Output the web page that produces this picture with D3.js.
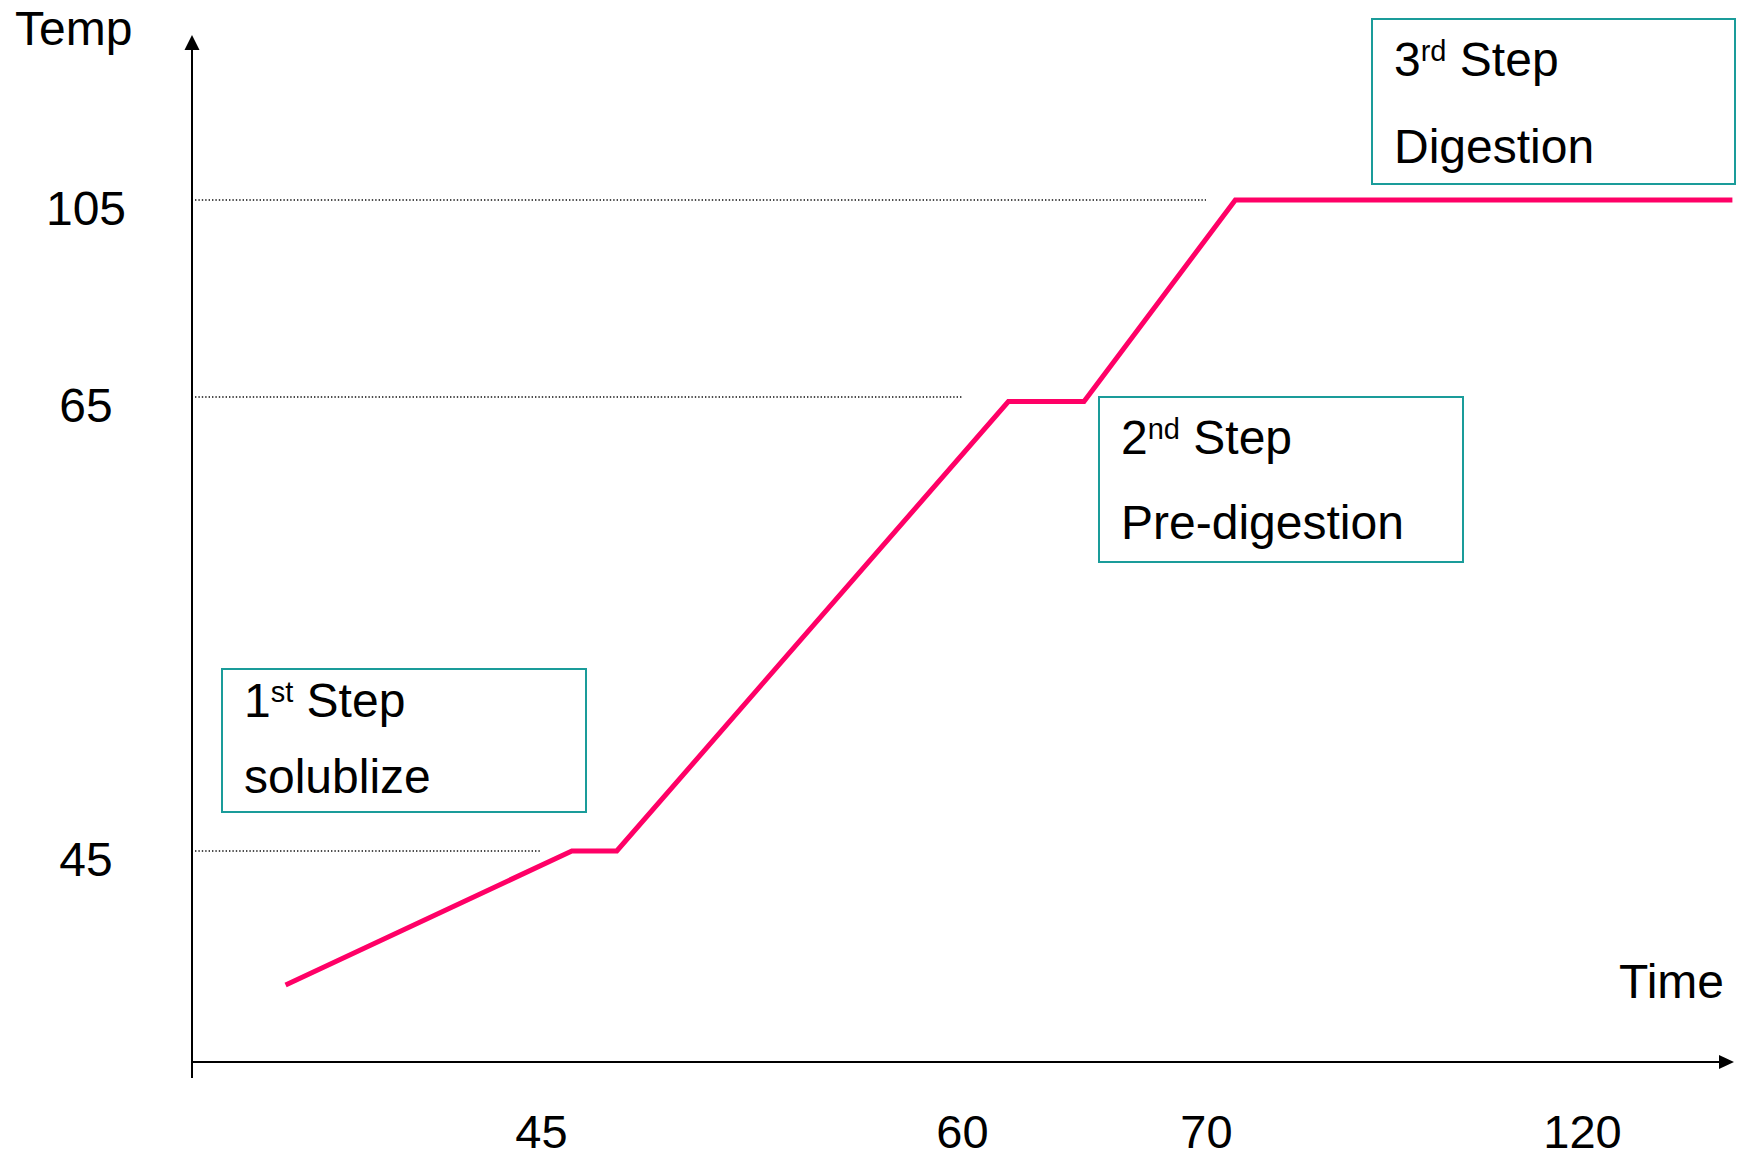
<!DOCTYPE html>
<html>
<head>
<meta charset="utf-8">
<script src="https://cdn.jsdelivr.net/npm/d3@7/dist/d3.min.js"></script>
<style>
  html, body { margin: 0; padding: 0; background: #fff; }
  svg { display: block; font-family: "Liberation Sans", Arial, sans-serif; }
</style>
</head>
<body>
<svg id="chart" width="1742" height="1153"></svg>
<script>
// Tick labels on each axis
const timeTicks = [45, 60, 70, 120];
const tempTicks = [45, 65, 105];

// Temperature profile (time, temp) vertices
const profileTime = [35.9, 46.1, 47.7, 61.9, 65.0, 73.9, 140];
const profileTemp = [39.1, 45, 45, 64.8, 64.8, 105, 105];

// Each reference temperature is held until this time
const guideTemp = [45, 65, 105];
const guideTime = [45, 60, 70];

// Process steps
const stepNumber = ["1", "2", "3"];
const stepSuffix = ["st", "nd", "rd"];
const stepName = ["solublize", "Pre-digestion", "Digestion"];

// Layout
const W = 1742, H = 1153;
const originX = 192, originY = 1062;
const axisTop = 35, axisRight = 1734;
const pink = "#ff0066", teal = "#1a9c9a";
const fontFamily = "'Liberation Sans', Arial, sans-serif";

const stepBoxes = [
  { x: 222, y: 669, w: 364, h: 143, line1: 48, line2: 124 },
  { x: 1099, y: 397, w: 364, h: 165, line1: 57, line2: 142 },
  { x: 1372, y: 19, w: 363, h: 165, line1: 57, line2: 144 }
];

// Both axes are schematic, so the scales are piecewise linear
const x = d3.scaleLinear().domain(timeTicks).range([541, 962, 1206, 1582]);
const y = d3.scaleLinear().domain(tempTicks).range([851, 397, 200]);

const svg = d3.select("#chart");

// Dotted reference lines
svg.append("g").selectAll("line")
  .data(guideTemp.map((t, i) => ({ temp: t, time: guideTime[i] })))
  .join("line")
  .attr("x1", originX + 3)
  .attr("x2", d => x(d.time))
  .attr("y1", d => y(d.temp))
  .attr("y2", d => y(d.temp))
  .attr("stroke", "#111")
  .attr("stroke-width", 1.3)
  .attr("stroke-dasharray", "1.4 2");

// Axis lines with arrow heads
const axes = svg.append("g");
axes.append("line")
  .attr("x1", originX).attr("x2", originX)
  .attr("y1", 1078).attr("y2", axisTop + 12)
  .attr("stroke", "#000").attr("stroke-width", 2);
axes.append("path")
  .attr("d", `M${originX},${axisTop} L${originX - 7.5},${axisTop + 15} L${originX + 7.5},${axisTop + 15}Z`)
  .attr("fill", "#000");
axes.append("line")
  .attr("x1", originX).attr("x2", axisRight - 12)
  .attr("y1", originY).attr("y2", originY)
  .attr("stroke", "#000").attr("stroke-width", 2.2);
axes.append("path")
  .attr("d", `M${axisRight},${originY} L${axisRight - 15},${originY - 7} L${axisRight - 15},${originY + 7}Z`)
  .attr("fill", "#000");

// Time tick labels
const xAxis = svg.append("g")
  .attr("transform", `translate(0,${originY})`)
  .call(d3.axisBottom(x).tickValues(timeTicks).tickSize(0).tickPadding(53).tickFormat(d3.format("d")));
xAxis.select(".domain").remove();
xAxis.selectAll("text")
  .attr("font-size", 47)
  .attr("font-family", fontFamily)
  .attr("fill", "#000");

// Temperature tick labels
const yAxis = svg.append("g")
  .attr("transform", `translate(${originX},0)`)
  .call(d3.axisLeft(y).tickValues(tempTicks).tickSize(0).tickFormat(d3.format("d")));
yAxis.select(".domain").remove();
yAxis.selectAll("text")
  .attr("x", -106)
  .attr("dy", 24)
  .attr("text-anchor", "middle")
  .attr("font-size", 48)
  .attr("font-family", fontFamily)
  .attr("fill", "#000");

// Axis titles
svg.append("text").attr("x", 15).attr("y", 45)
  .attr("font-size", 48).text("Temp");
svg.append("text").attr("x", 1724).attr("y", 998)
  .attr("text-anchor", "end").attr("font-size", 48).text("Time");

// Temperature profile
const line = d3.line().x(d => x(d[0])).y(d => y(d[1]));
svg.append("path")
  .datum(profileTime.map((t, i) => [t, profileTemp[i]]))
  .attr("d", line)
  .attr("fill", "none")
  .attr("stroke", pink)
  .attr("stroke-width", 5)
  .attr("stroke-linejoin", "miter");

// Step boxes
const steps = svg.append("g").selectAll("g")
  .data(stepBoxes.map((b, i) => ({ ...b, num: stepNumber[i], suf: stepSuffix[i], name: stepName[i] })))
  .join("g")
  .attr("transform", d => `translate(${d.x},${d.y})`);

steps.append("rect")
  .attr("width", d => d.w).attr("height", d => d.h)
  .attr("fill", "#fff")
  .attr("stroke", teal).attr("stroke-width", 2);

const title = steps.append("text")
  .attr("x", 22).attr("y", d => d.line1)
  .attr("font-size", 48);
title.append("tspan").text(d => d.num);
title.append("tspan").attr("font-size", 29).attr("dy", -15).text(d => d.suf);
title.append("tspan").attr("dy", 15).text(" Step");

steps.append("text")
  .attr("x", 22).attr("y", d => d.line2)
  .attr("font-size", 48)
  .text(d => d.name);
</script>
</body>
</html>
